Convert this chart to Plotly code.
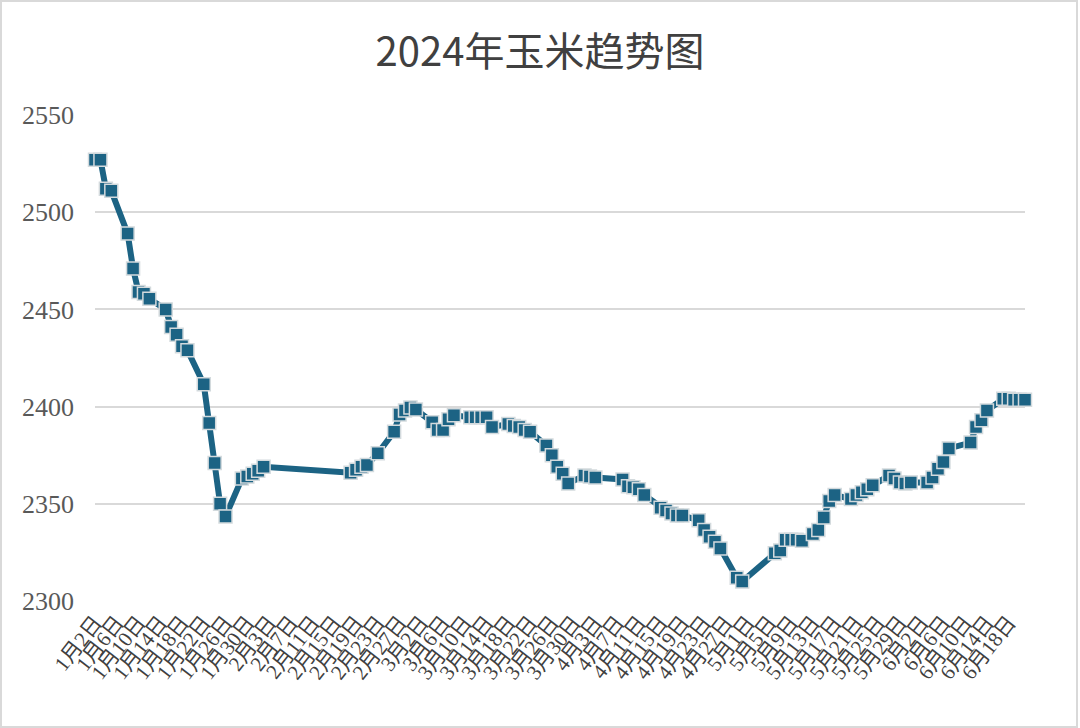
import plotly.graph_objects as go

dates = [
    "2024-01-02", "2024-01-03", "2024-01-04", "2024-01-05",
    "2024-01-08", "2024-01-09", "2024-01-10", "2024-01-11", "2024-01-12",
    "2024-01-15", "2024-01-16", "2024-01-17", "2024-01-18", "2024-01-19",
    "2024-01-22", "2024-01-23", "2024-01-24", "2024-01-25", "2024-01-26",
    "2024-01-29", "2024-01-30", "2024-01-31", "2024-02-01", "2024-02-02",
    "2024-02-18", "2024-02-19", "2024-02-20", "2024-02-21", "2024-02-23",
    "2024-02-26", "2024-02-27", "2024-02-28", "2024-02-29", "2024-03-01",
    "2024-03-04", "2024-03-05", "2024-03-06", "2024-03-07", "2024-03-08",
    "2024-03-11", "2024-03-12", "2024-03-13", "2024-03-14", "2024-03-15",
    "2024-03-18", "2024-03-19", "2024-03-20", "2024-03-21", "2024-03-22",
    "2024-03-25", "2024-03-26", "2024-03-27", "2024-03-28", "2024-03-29",
    "2024-04-01", "2024-04-02", "2024-04-03",
    "2024-04-08", "2024-04-09", "2024-04-10", "2024-04-11", "2024-04-12",
    "2024-04-15", "2024-04-16", "2024-04-17", "2024-04-18", "2024-04-19",
    "2024-04-22", "2024-04-23", "2024-04-24", "2024-04-25", "2024-04-26",
    "2024-04-29", "2024-04-30",
    "2024-05-06", "2024-05-07", "2024-05-08", "2024-05-09", "2024-05-10", "2024-05-11",
    "2024-05-13", "2024-05-14", "2024-05-15", "2024-05-16", "2024-05-17",
    "2024-05-20", "2024-05-21", "2024-05-22", "2024-05-23", "2024-05-24",
    "2024-05-27", "2024-05-28", "2024-05-29", "2024-05-30", "2024-05-31",
    "2024-06-03", "2024-06-04", "2024-06-05", "2024-06-06", "2024-06-07",
    "2024-06-11", "2024-06-12", "2024-06-13", "2024-06-14",
    "2024-06-17", "2024-06-18", "2024-06-19", "2024-06-20", "2024-06-21",
]

prices = [
    2527, 2527, 2512, 2511,
    2489, 2471, 2459, 2458, 2455.5,
    2450, 2441, 2437, 2431, 2429,
    2411.5, 2391.5, 2371, 2350, 2343.5,
    2363, 2364, 2365.5, 2367, 2369,
    2366, 2367.5, 2369, 2370, 2376,
    2387, 2396, 2398, 2399.5, 2398.5,
    2392, 2388, 2388, 2393.5, 2395.5,
    2394.5, 2394.5, 2394.5, 2394.5, 2389.5,
    2391, 2390, 2389.5, 2388, 2387,
    2380, 2375, 2369, 2365.5, 2360.5,
    2364.5, 2364, 2363.5,
    2362.5, 2359, 2358.5, 2357.5, 2354.5,
    2348, 2346.5, 2345, 2344, 2344,
    2341.5, 2336.5, 2333, 2330.5, 2327,
    2312, 2310,
    2324.5, 2326, 2331.5, 2331.5, 2331.5, 2331,
    2334.5, 2336.5, 2343, 2351.5, 2354.5,
    2352.5, 2354.5, 2356, 2357.5, 2359.5,
    2364.5, 2363, 2361, 2360.5, 2361,
    2361, 2363.5, 2368, 2371.5, 2378.5,
    2381.5, 2389.5, 2393, 2398,
    2404, 2404, 2403.5, 2403.5, 2403.5,
]

tick_dates = [
    "2024-01-02", "2024-01-06", "2024-01-10", "2024-01-14", "2024-01-18",
    "2024-01-22", "2024-01-26", "2024-01-30", "2024-02-03", "2024-02-07",
    "2024-02-11", "2024-02-15", "2024-02-19", "2024-02-23", "2024-02-27",
    "2024-03-02", "2024-03-06", "2024-03-10", "2024-03-14", "2024-03-18",
    "2024-03-22", "2024-03-26", "2024-03-30", "2024-04-03", "2024-04-07",
    "2024-04-11", "2024-04-15", "2024-04-19", "2024-04-23", "2024-04-27",
    "2024-05-01", "2024-05-05", "2024-05-09", "2024-05-13", "2024-05-17",
    "2024-05-21", "2024-05-25", "2024-05-29", "2024-06-02", "2024-06-06",
    "2024-06-10", "2024-06-14", "2024-06-18",
]
tick_labels = [
    "1月2日", "1月6日", "1月10日", "1月14日", "1月18日",
    "1月22日", "1月26日", "1月30日", "2月3日", "2月7日",
    "2月11日", "2月15日", "2月19日", "2月23日", "2月27日",
    "3月2日", "3月6日", "3月10日", "3月14日", "3月18日",
    "3月22日", "3月26日", "3月30日", "4月3日", "4月7日",
    "4月11日", "4月15日", "4月19日", "4月23日", "4月27日",
    "5月1日", "5月5日", "5月9日", "5月13日", "5月17日",
    "5月21日", "5月25日", "5月29日", "6月2日", "6月6日",
    "6月10日", "6月14日", "6月18日",
]
y_ticks = [2300, 2350, 2400, 2450, 2500, 2550]

title_text = "2024年玉米趋势图"

LINE_COLOR = "#1C6384"
SERIF = "Liberation Serif, DejaVu Serif, Noto Sans CJK SC, serif"

fig = go.Figure()
fig.add_trace(go.Scatter(
    x=dates, y=prices,
    mode="lines+markers",
    line=dict(color=LINE_COLOR, width=6),
    marker=dict(symbol="square", size=13, color=LINE_COLOR,
                line=dict(color="#D3DADD", width=1.5)),
    cliponaxis=False,
    showlegend=False,
))

fig.update_layout(
    width=1080, height=728,
    paper_bgcolor="white", plot_bgcolor="white",
    margin=dict(l=95, r=55, t=115, b=127),
    title=dict(text=title_text, x=0.5, xanchor="center", y=0.928, yanchor="middle",
               font=dict(family="Noto Sans CJK SC, Noto Sans, sans-serif", size=40, color="#404040")),
    xaxis=dict(
        type="date",
        range=["2024-01-02", "2024-06-21"],
        tickmode="array", tickvals=tick_dates, ticktext=tick_labels,
        tickangle=-52,
        tickfont=dict(family=SERIF, size=21, color="#404040"),
        showgrid=False, zeroline=False, showline=False,
        ticks="", ticklabelstandoff=4,
    ),
    yaxis=dict(
        range=[2300, 2550],
        tickmode="array", tickvals=y_ticks,
        tickfont=dict(family=SERIF, size=26, color="#595959"),
        showgrid=True, gridcolor="#D9D9D9", gridwidth=2,
        zeroline=False, showline=False, ticks="",
        ticklabelstandoff=20,
    ),
    shapes=[dict(type="rect", xref="paper", yref="paper",
                 x0=-94/930, x1=(1077-95)/930, y0=-126/486, y1=(486+114)/486,
                 line=dict(color="#D9D9D9", width=2), layer="below")],
)

fig.write_html("out.html", config={"displayModeBar": False},
               post_script="document.body.style.margin='0';")
